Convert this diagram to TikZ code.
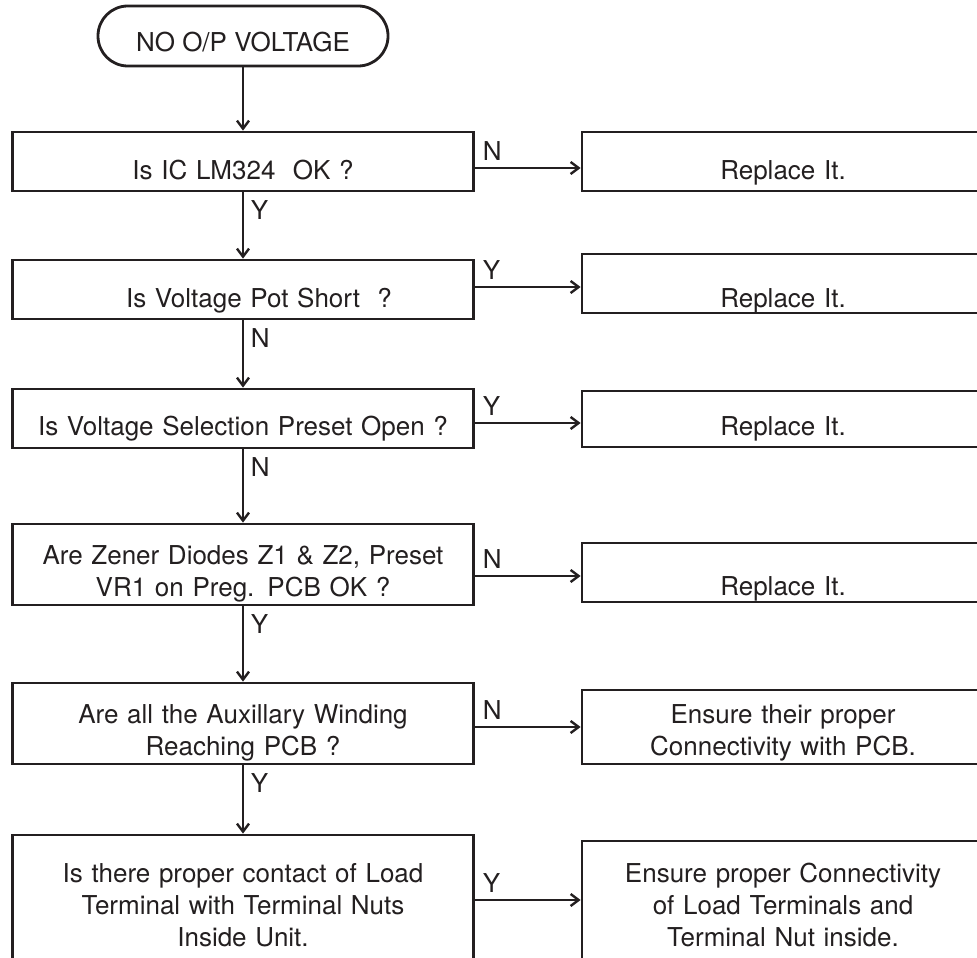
\documentclass[tikz,border=0pt]{standalone}
\usepackage{fontspec}
\setmainfont{TeX Gyre Heros}
\usetikzlibrary{arrows.meta,positioning}
\definecolor{ink}{HTML}{231F20}

\begin{document}
\begin{tikzpicture}[x=0.5pt, y=-0.5pt,
  txt/.style={font=\fontsize{13pt}{16pt}\selectfont, text=ink},
  qbox/.style={txt, draw=ink, line width=1.4pt, text width=225pt, align=center,
    minimum width=230.5pt, minimum height=29.5pt, inner sep=2pt, text height=17.5pt, text depth=0pt},
  abox/.style={qbox, text width=195pt, minimum width=201pt},
  term/.style={txt, draw=ink, line width=1.4pt, rounded corners=14.9pt, minimum width=145pt,
    minimum height=30pt, inner sep=2pt, text height=16pt, text depth=0pt},
  yn/.style={txt},
  arr/.style={draw=ink, line width=1.2pt, -{Straight Barb[length=4pt,width=6pt]}}]
  \useasboundingbox (0,0) rectangle (977,957);

  % question column
  \node[term] (q0) at (243,36) {NO O/P VOLTAGE};
  \node[qbox, below=31.6pt of q0] (q1) {Is IC LM324~~OK ?};
  \node[qbox, below=33.1pt of q1] (q2) {\hspace*{16pt}Is Voltage Pot Short~~?};
  \node[qbox, below=33.6pt of q2, text height=16.5pt] (q3) {Is Voltage Selection Preset Open ?};
  \node[qbox, below=36.6pt of q3, minimum height=40.5pt, text height=0pt, text depth=0.5pt] (q4)
    {Are Zener Diodes Z1 \& Z2, Preset\\VR1 on Preg. PCB OK ?};
  \node[qbox, below=37.6pt of q4, minimum height=40.5pt, text height=0pt, text depth=0.5pt] (q5)
    {Are all the Auxillary Winding\\Reaching PCB ?};
  \node[qbox, below=34.1pt of q5, minimum height=80pt, text height=0pt, text depth=33pt] (q6)
    {Is there proper contact of Load\\Terminal with Terminal Nuts\\Inside Unit.};

  % action column
  \node[abox] (r1) at (783,161.5) {Replace It.};
  \node[abox, text height=23.5pt] (r2) at (783,283.5) {Replace It.};
  \node[abox, minimum height=28pt, text height=16pt] (r3) at (783,419) {Replace It.};
  \node[abox, text height=22.5pt] (r4) at (783,572.5) {Replace It.};
  \node[abox, minimum height=37pt, text height=0pt, text depth=4pt] (r5) at (783,727)
    {Ensure their proper\\Connectivity with PCB.};
  \node[abox, minimum height=74pt, text height=0pt, text depth=33pt] (r6) at (783,915)
    {Ensure proper Connectivity\\of Load Terminals and\\Terminal Nut inside.};

  % main flow
  \draw[arr] (q0) -- (q1);
  \draw[arr] (q1) -- node[yn, pos=0, below right]{Y} (q2);
  \draw[arr] (q2) -- node[yn, pos=0, below right]{N} (q3);
  \draw[arr] (q3) -- node[yn, pos=0, below right]{N} (q4);
  \draw[arr] (q4) -- node[yn, pos=0, below right]{Y} (q5);
  \draw[arr] (q5) -- node[yn, pos=0, below right]{Y} (q6);

  % branches
  \draw[arr] ([yshift=-3.25pt]q1.east) -- node[yn, pos=0, above right]{N} ([yshift=-3.25pt]q1.east -| r1.west);
  \draw[arr] ([yshift=1.25pt]q2.east) -- node[yn, pos=0, above right]{Y} ([yshift=1.25pt]q2.east -| r2.west);
  \draw[arr] ([yshift=-2.25pt]q3.east) -- node[yn, pos=0, above right]{Y} ([yshift=-2.25pt]q3.east -| r3.west);
  \draw[arr] ([yshift=-5.75pt]q4.east) -- node[yn, pos=0, above right]{N} ([yshift=-5.75pt]q4.east -| r4.west);
  \draw[arr] ([yshift=-1.75pt]q5.east) -- node[yn, pos=0, above right]{N} ([yshift=-1.75pt]q5.east -| r5.west);
  \draw[arr] ([yshift=7.5pt]q6.east) -- node[yn, pos=0, above right]{Y} ([yshift=7.5pt]q6.east -| r6.west);
\end{tikzpicture}
\end{document}
